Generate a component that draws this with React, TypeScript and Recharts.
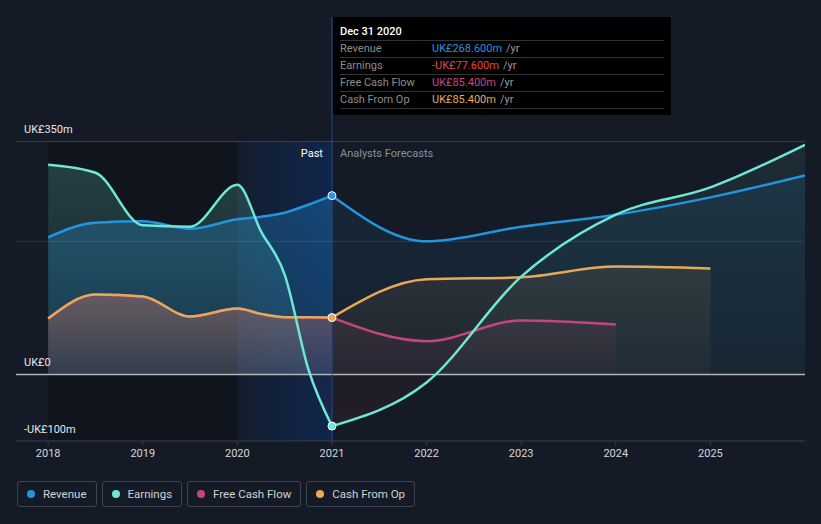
import React from 'react';
import { ComposedChart, Area, Line, XAxis, YAxis, ReferenceArea, ReferenceLine, ReferenceDot } from 'recharts';

const pastYears = [2018, 2018.5, 2019, 2019.5, 2020, 2020.25, 2020.5, 2020.75, 2021];
const revenuePast = [206, 228, 230, 219, 233, 237, 243, 255, 268.6];
const earningsPast = [315, 303, 224, 222, 285, 215, 150, 8, -77.6];
const fcfPast = [84, 120, 117, 87, 99, 91, 86, 86, 85.4];
const cfoPast = [84, 120, 117, 87, 99, 91, 86, 86, 85.4];

const futureYears = [2021, 2022, 2023, 2024, 2025, 2026];
const revenueFuture = [268.6, 200, 222, 240, 266, 299];
const earningsFuture = [-77.6, -12, 147, 240, 281, 345];
const fcfFuture = [85.4, 50, 81, 75];
const cfoFuture = [85.4, 143, 146, 162, 159];

const xTicks = [2018, 2019, 2020, 2021, 2022, 2023, 2024, 2025];
const yTicks = [-100, 0, 350];
const yTickLabels: Record<number, string> = { '-100': '-UK£100m', 0: 'UK£0', 350: 'UK£350m' };

const tooltipTitle = 'Dec 31 2020';
const tooltipRows = [
  { label: 'Revenue', value: 'UK£268.600m', color: '#2394df' },
  { label: 'Earnings', value: '-UK£77.600m', color: '#e84343' },
  { label: 'Free Cash Flow', value: 'UK£85.400m', color: '#c6457f' },
  { label: 'Cash From Op', value: 'UK£85.400m', color: '#e8a85a' },
];

const legendItems = [
  { name: 'Revenue', color: '#2394df' },
  { name: 'Earnings', color: '#6ee7d4' },
  { name: 'Free Cash Flow', color: '#c6457f' },
  { name: 'Cash From Op', color: '#e8ac5c' },
];

const COLORS = { revenue: '#2394df', earnings: '#6ee7d4', fcf: '#c6457f', cfo: '#e8a85a' };
const FONT = 'Roboto, "Open Sans", sans-serif';

const allYears = Array.from(new Set([...pastYears, ...futureYears])).sort((a, b) => a - b);
const data = allYears.map((year) => {
  const p = pastYears.indexOf(year);
  const f = futureYears.indexOf(year);
  return {
    year,
    revenuePast: p >= 0 ? revenuePast[p] : undefined,
    earningsPast: p >= 0 ? earningsPast[p] : undefined,
    fcfPast: p >= 0 ? fcfPast[p] : undefined,
    cfoPast: p >= 0 ? cfoPast[p] : undefined,
    revenueFuture: f >= 0 ? revenueFuture[f] : undefined,
    earningsFuture: f >= 0 && f < earningsFuture.length ? earningsFuture[f] : undefined,
    fcfFuture: f >= 0 && f < fcfFuture.length ? fcfFuture[f] : undefined,
    cfoFuture: f >= 0 && f < cfoFuture.length ? cfoFuture[f] : undefined,
  };
});

const zeroOffset = (vals: number[]) => {
  const max = Math.max(0, ...vals);
  const min = Math.min(0, ...vals);
  return max / (max - min);
};

const renderYTick = (props: any) => {
  const { y, payload } = props;
  return (
    <text key={`yt-${payload.value}`} x={24} y={y - 8} fill="#e6e6e6" fontSize={11} fontFamily={FONT}>
      {yTickLabels[payload.value]}
    </text>
  );
};

const DividerLabel = (props: any) => {
  const { viewBox } = props;
  const x = viewBox.x;
  const y = viewBox.y + 140;
  return (
    <g fontFamily={FONT} fontSize={11}>
      <text x={x - 9} y={y} textAnchor="end" fill="#ffffff">Past</text>
      <text x={x + 8} y={y} textAnchor="start" fill="#8b9099">Analysts Forecasts</text>
    </g>
  );
};

function Tooltipish() {
  return (
    <div style={{ position: 'absolute', left: 333, top: 17, width: 338, height: 98, background: '#000', fontFamily: FONT, fontSize: 11, boxSizing: 'border-box', padding: '8px 7px 0 7px' }}>
      <div style={{ color: '#fff', fontWeight: 500, height: 15, lineHeight: '14px' }}>{tooltipTitle}</div>
      {tooltipRows.map((r) => (
        <div key={r.label} style={{ borderTop: '1px solid #333', height: 16, lineHeight: '16px', display: 'flex' }}>
          <span style={{ color: '#8d8d8d', width: 92 }}>{r.label}</span>
          <span style={{ color: r.color }}>{r.value}</span>
          <span style={{ color: '#9a9a9a', marginLeft: 4 }}>/yr</span>
        </div>
      ))}
      <div style={{ borderTop: '1px solid #333' }} />
    </div>
  );
}

function LegendBar() {
  return (
    <div style={{ position: 'absolute', left: 17, top: 481, display: 'flex', gap: 5, fontFamily: FONT, fontSize: 11.5 }}>
      {legendItems.map((it) => (
        <div key={it.name} style={{ height: 26, boxSizing: 'border-box', border: '1px solid #3f4550', borderRadius: 3, display: 'flex', alignItems: 'center', padding: '0 9px 0 9px', color: '#cfd2d6' }}>
          <span style={{ width: 8, height: 8, borderRadius: '50%', background: it.color, marginRight: 8 }} />
          {it.name}
        </div>
      ))}
    </div>
  );
}

const lastPast = pastYears.length - 1;

const fillProps = { type: 'monotone' as const, stroke: 'none', connectNulls: true, isAnimationActive: false, dot: false, activeDot: false };
const lineProps = { type: 'monotone' as const, strokeWidth: 2.5, connectNulls: true, isAnimationActive: false, dot: false, activeDot: false };

export default function App() {
  return (
    <div style={{ position: 'absolute', left: 0, top: 0, width: 821, height: 524, background: '#151b26', overflow: 'hidden' }}>
      <ComposedChart width={821} height={524} data={data} margin={{ top: 17, right: 16, bottom: 53, left: 15 }}>
        <defs>
          <linearGradient id="revenuePast" x1="0" y1="0" x2="0" y2="1">
            <stop offset="0%" stopColor={COLORS.revenue} stopOpacity={0.5} />
            <stop offset="100%" stopColor={COLORS.revenue} stopOpacity={0.26} />
          </linearGradient>
          <linearGradient id="cfoPast" x1="0" y1="0" x2="0" y2="1">
            <stop offset="0%" stopColor={COLORS.cfo} stopOpacity={0.36} />
            <stop offset="100%" stopColor={COLORS.cfo} stopOpacity={0.1} />
          </linearGradient>
          <linearGradient id="fcfPast" x1="0" y1="0" x2="0" y2="1">
            <stop offset="0%" stopColor={COLORS.fcf} stopOpacity={0.36} />
            <stop offset="100%" stopColor={COLORS.fcf} stopOpacity={0.14} />
          </linearGradient>
          {(['revenue', 'fcf', 'cfo'] as const).map((k) => (
            <linearGradient key={k} id={`${k}Future`} x1="0" y1="0" x2="0" y2="1">
              <stop offset="0%" stopColor={COLORS[k]} stopOpacity={0.17} />
              <stop offset="100%" stopColor={COLORS[k]} stopOpacity={0.07} />
            </linearGradient>
          ))}
          <linearGradient id="earningsPast" x1="0" y1="0" x2="0" y2="1">
            <stop offset="0%" stopColor={COLORS.earnings} stopOpacity={0.34} />
            <stop offset={zeroOffset(earningsPast)} stopColor={COLORS.earnings} stopOpacity={0.12} />
            <stop offset={zeroOffset(earningsPast)} stopColor="#e84343" stopOpacity={0.05} />
            <stop offset="100%" stopColor="#e84343" stopOpacity={0.08} />
          </linearGradient>
          <linearGradient id="earningsFuture" x1="0" y1="0" x2="0" y2="1">
            <stop offset="0%" stopColor={COLORS.earnings} stopOpacity={0.14} />
            <stop offset={zeroOffset(earningsFuture)} stopColor={COLORS.earnings} stopOpacity={0.05} />
            <stop offset={zeroOffset(earningsFuture)} stopColor="#e84343" stopOpacity={0.06} />
            <stop offset="100%" stopColor="#e84343" stopOpacity={0.12} />
          </linearGradient>
          <linearGradient id="pastBand" x1="0" y1="0" x2="1" y2="0">
            <stop offset="0%" stopColor="#0b2c60" stopOpacity={0.15} />
            <stop offset="100%" stopColor="#0b2c60" stopOpacity={0.65} />
          </linearGradient>
        </defs>

        <XAxis
          dataKey="year"
          type="number"
          domain={[2017.66, 2026]}
          ticks={xTicks}
          tickFormatter={(v) => String(v)}
          axisLine={{ stroke: '#3b404b' }}
          tickLine={{ stroke: '#3b404b' }}
          tickSize={4}
          tickMargin={4}
          tick={{ fill: '#d6d6d6', fontSize: 11, fontFamily: FONT }}
          height={30}
          allowDataOverflow
        />
        <YAxis type="number" domain={[-100, 537]} ticks={yTicks} interval={0} width={1} axisLine={false} tickLine={false} tick={renderYTick} allowDataOverflow />

        <ReferenceArea x1={2018} x2={2020} y1={-100} y2={350} fill="#0c0f14" fillOpacity={0.55} stroke="none" />
        <ReferenceArea x1={2020} x2={2021} y1={-100} y2={350} fill="url(#pastBand)" fillOpacity={1} stroke="none" />
        <ReferenceLine y={350} stroke="#3a404b" strokeWidth={1} />

        {/* fills: earnings, revenue, then cash flows on top */}
        <Area {...fillProps} dataKey="earningsPast" fill="url(#earningsPast)" />
        <Area {...fillProps} dataKey="revenuePast" fill="url(#revenuePast)" />
        <Area {...fillProps} dataKey="fcfPast" fill="url(#fcfPast)" />
        <Area {...fillProps} dataKey="cfoPast" fill="url(#cfoPast)" />
        <Area {...fillProps} dataKey="earningsFuture" fill="url(#earningsFuture)" />
        <Area {...fillProps} dataKey="revenueFuture" fill="url(#revenueFuture)" />
        <Area {...fillProps} dataKey="fcfFuture" fill="url(#fcfFuture)" />
        <Area {...fillProps} dataKey="cfoFuture" fill="url(#cfoFuture)" />

        <ReferenceLine y={200} stroke="#ffffff" strokeOpacity={0.1} strokeWidth={1} />
        <ReferenceLine y={0} stroke="#b5b5b5" strokeWidth={1.5} />

        {/* lines */}
        <Line {...lineProps} dataKey="fcfPast" stroke={COLORS.fcf} />
        <Line {...lineProps} dataKey="cfoPast" stroke={COLORS.cfo} />
        <Line {...lineProps} dataKey="revenuePast" stroke={COLORS.revenue} />
        <Line {...lineProps} dataKey="earningsPast" stroke={COLORS.earnings} />
        <Line {...lineProps} dataKey="fcfFuture" stroke={COLORS.fcf} />
        <Line {...lineProps} dataKey="cfoFuture" stroke={COLORS.cfo} />
        <Line {...lineProps} dataKey="revenueFuture" stroke={COLORS.revenue} />
        <Line {...lineProps} dataKey="earningsFuture" stroke={COLORS.earnings} />

        <ReferenceLine x={2021} stroke="#1d4d8c" strokeWidth={1} label={<DividerLabel />} />

        <ReferenceDot x={pastYears[lastPast]} y={revenuePast[lastPast]} r={4} fill={COLORS.revenue} stroke="#ffffff" strokeWidth={1} />
        <ReferenceDot x={pastYears[lastPast]} y={cfoPast[lastPast]} r={4} fill={COLORS.cfo} stroke="#ffffff" strokeWidth={1} />
        <ReferenceDot x={pastYears[lastPast]} y={earningsPast[lastPast]} r={4} fill={COLORS.earnings} stroke="#ffffff" strokeWidth={1} />
      </ComposedChart>
      <Tooltipish />
      <LegendBar />
    </div>
  );
}
